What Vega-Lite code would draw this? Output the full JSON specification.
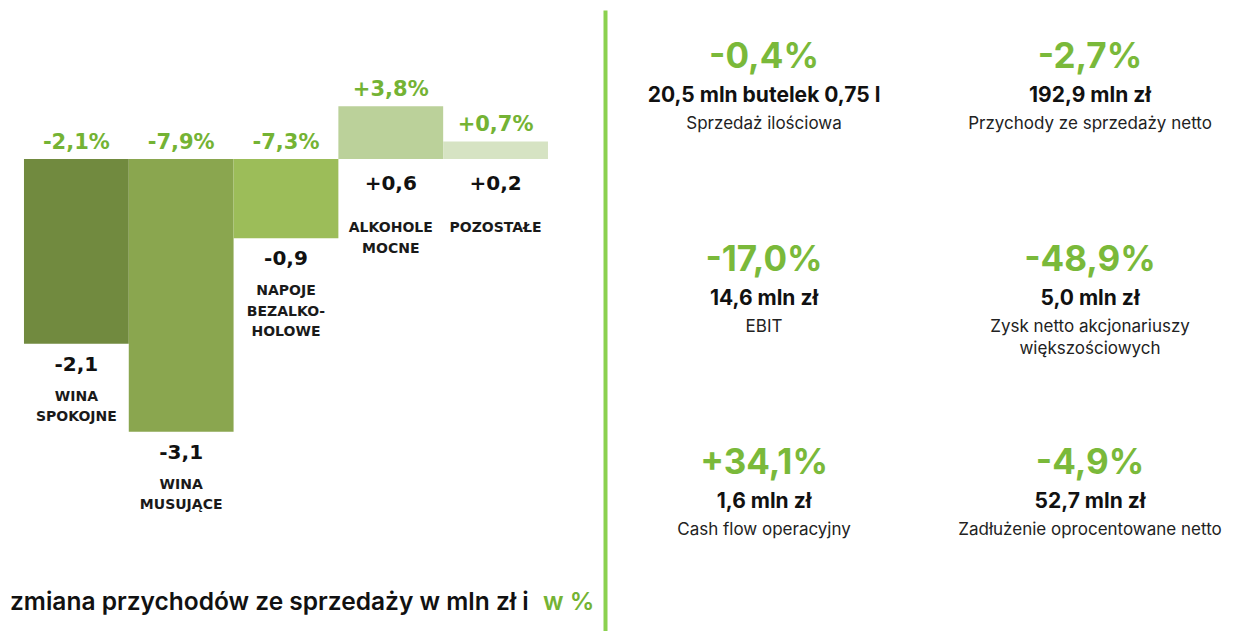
{
  "$schema": "https://vega.github.io/schema/vega-lite/v6.json",
  "padding": {"top": 10, "left": 0, "right": 0, "bottom": 0},
  "background": "white",
  "spacing": 0,
  "config": {"view": {"stroke": null}, "concat": {"spacing": 0}},
  "datasets": {
    "segments": [
      {"segment": "WINA SPOKOJNE", "etykieta": "WINA\nSPOKOJNE", "zmiana": -2.1, "zmiana_txt": "-2,1", "proc_txt": "-2,1%"},
      {"segment": "WINA MUSUJĄCE", "etykieta": "WINA\nMUSUJĄCE", "zmiana": -3.1, "zmiana_txt": "-3,1", "proc_txt": "-7,9%"},
      {"segment": "NAPOJE BEZALKOHOLOWE", "etykieta": "NAPOJE\nBEZALKO-\nHOLOWE", "zmiana": -0.9, "zmiana_txt": "-0,9", "proc_txt": "-7,3%"},
      {"segment": "ALKOHOLE MOCNE", "etykieta": "ALKOHOLE\nMOCNE", "zmiana": 0.6, "zmiana_txt": "+0,6", "proc_txt": "+3,8%"},
      {"segment": "POZOSTAŁE", "etykieta": "POZOSTAŁE", "zmiana": 0.2, "zmiana_txt": "+0,2", "proc_txt": "+0,7%"}
    ],
    "kpi": [
      {"kolumna": 1, "wiersz": 1, "zmiana": "-0,4%", "wartosc": "20,5 mln butelek 0,75 l", "opis": "Sprzedaż ilościowa"},
      {"kolumna": 2, "wiersz": 1, "zmiana": "-2,7%", "wartosc": "192,9 mln zł", "opis": "Przychody ze sprzedaży netto"},
      {"kolumna": 1, "wiersz": 2, "zmiana": "-17,0%", "wartosc": "14,6 mln zł", "opis": "EBIT"},
      {"kolumna": 2, "wiersz": 2, "zmiana": "-48,9%", "wartosc": "5,0 mln zł", "opis": "Zysk netto akcjonariuszy\nwiększościowych"},
      {"kolumna": 1, "wiersz": 3, "zmiana": "+34,1%", "wartosc": "1,6 mln zł", "opis": "Cash flow operacyjny"},
      {"kolumna": 2, "wiersz": 3, "zmiana": "-4,9%", "wartosc": "52,7 mln zł", "opis": "Zadłużenie oprocentowane netto"}
    ]
  },
  "hconcat": [
    {
      "width": 605,
      "height": 621,
      "data": {"name": "segments"},
      "layer": [
        {
          "mark": {"type": "bar"},
          "encoding": {
            "x": {"field": "segment", "type": "nominal", "sort": null, "axis": null, "scale": {"paddingInner": 0, "paddingOuter": 0.3865, "align": 0.296}},
            "y": {"field": "zmiana", "type": "quantitative", "axis": null, "scale": {"domain": [-5.3636, 1.6932], "nice": false, "zero": false}},
            "y2": {"datum": 0},
            "color": {"field": "segment", "type": "nominal", "legend": null, "sort": null,
              "scale": {"domain": ["WINA SPOKOJNE", "WINA MUSUJĄCE", "NAPOJE BEZALKOHOLOWE", "ALKOHOLE MOCNE", "POZOSTAŁE"],
                        "range": ["#718a3f", "#8aa64f", "#9cbd59", "#bbd19a", "#d6e3c3"]}}
          }
        },
        {
          "transform": [{"filter": "datum.zmiana < 0"}],
          "mark": {"type": "text", "font": "DejaVu Sans", "fontWeight": "bold", "fontSize": 21, "color": "#74b334", "baseline": "alphabetic", "dy": -10},
          "encoding": {
            "x": {"field": "segment", "type": "nominal", "sort": null},
            "y": {"datum": 0},
            "text": {"field": "proc_txt"}
          }
        },
        {
          "transform": [{"filter": "datum.zmiana >= 0"}],
          "mark": {"type": "text", "font": "DejaVu Sans", "fontWeight": "bold", "fontSize": 21, "color": "#74b334", "baseline": "alphabetic", "dy": -10},
          "encoding": {
            "x": {"field": "segment", "type": "nominal", "sort": null},
            "y": {"field": "zmiana", "type": "quantitative"},
            "text": {"field": "proc_txt"}
          }
        },
        {
          "transform": [{"filter": "datum.zmiana < 0"}],
          "mark": {"type": "text", "font": "DejaVu Sans", "fontWeight": "bold", "fontSize": 20, "color": "#111111", "baseline": "alphabetic", "dy": 27},
          "encoding": {
            "x": {"field": "segment", "type": "nominal", "sort": null},
            "y": {"field": "zmiana", "type": "quantitative"},
            "text": {"field": "zmiana_txt"}
          }
        },
        {
          "transform": [{"filter": "datum.zmiana >= 0"}],
          "mark": {"type": "text", "font": "DejaVu Sans", "fontWeight": "bold", "fontSize": 20, "color": "#111111", "baseline": "alphabetic", "dy": 31},
          "encoding": {
            "x": {"field": "segment", "type": "nominal", "sort": null},
            "y": {"datum": 0},
            "text": {"field": "zmiana_txt"}
          }
        },
        {
          "transform": [{"filter": "datum.zmiana < 0"}],
          "mark": {"type": "text", "font": "DejaVu Sans", "fontWeight": "bold", "fontSize": 14, "color": "#1a1a1a", "baseline": "alphabetic", "dy": 57, "lineBreak": "\n", "lineHeight": 20.5},
          "encoding": {
            "x": {"field": "segment", "type": "nominal", "sort": null},
            "y": {"field": "zmiana", "type": "quantitative"},
            "text": {"field": "etykieta"}
          }
        },
        {
          "transform": [{"filter": "datum.zmiana >= 0"}],
          "mark": {"type": "text", "font": "DejaVu Sans", "fontWeight": "bold", "fontSize": 14, "color": "#1a1a1a", "baseline": "alphabetic", "dy": 73, "lineBreak": "\n", "lineHeight": 20.5},
          "encoding": {
            "x": {"field": "segment", "type": "nominal", "sort": null},
            "y": {"datum": 0},
            "text": {"field": "etykieta"}
          }
        },
        {
          "data": {"values": [{"opis": "zmiana przychodów ze sprzedaży w mln zł i"}]},
          "mark": {"type": "text", "font": "Inter", "fontWeight": 600, "fontSize": 24.5, "color": "#111111", "baseline": "alphabetic", "align": "left"},
          "encoding": {"x": {"value": 10}, "y": {"value": 600}, "text": {"field": "opis"}}
        },
        {
          "data": {"values": [{"opis": "w %"}]},
          "mark": {"type": "text", "font": "Inter", "fontWeight": 600, "fontSize": 24.5, "color": "#74b334", "baseline": "alphabetic", "align": "left"},
          "encoding": {"x": {"value": 543}, "y": {"value": 600}, "text": {"field": "opis"}}
        }
      ]
    },
    {
      "width": 633,
      "height": 621,
      "data": {"name": "kpi"},
      "encoding": {
        "x": {"field": "kolumna", "type": "ordinal", "axis": null, "scale": {"type": "point", "padding": 0.4709, "align": 0.518}},
        "y": {"field": "wiersz", "type": "ordinal", "scale": {"type": "point", "padding": 0.5296, "align": 0.2698},
              "axis": {"orient": "left", "domain": true, "domainColor": "#8bd14f", "domainWidth": 4, "ticks": false, "labels": false, "title": null, "grid": false}}
      },
      "layer": [
        {
          "mark": {"type": "text", "font": "Inter", "fontWeight": "bold", "fontSize": 35, "color": "#7ab93a", "baseline": "alphabetic"},
          "encoding": {"text": {"field": "zmiana"}}
        },
        {
          "mark": {"type": "text", "font": "Inter", "fontWeight": "bold", "fontSize": 21, "color": "#111111", "baseline": "alphabetic", "dy": 34},
          "encoding": {"text": {"field": "wartosc"}}
        },
        {
          "mark": {"type": "text", "font": "Inter", "fontWeight": "normal", "fontSize": 17, "color": "#222222", "baseline": "alphabetic", "dy": 61, "lineBreak": "\n", "lineHeight": 22},
          "encoding": {"text": {"field": "opis"}}
        }
      ]
    }
  ]
}
